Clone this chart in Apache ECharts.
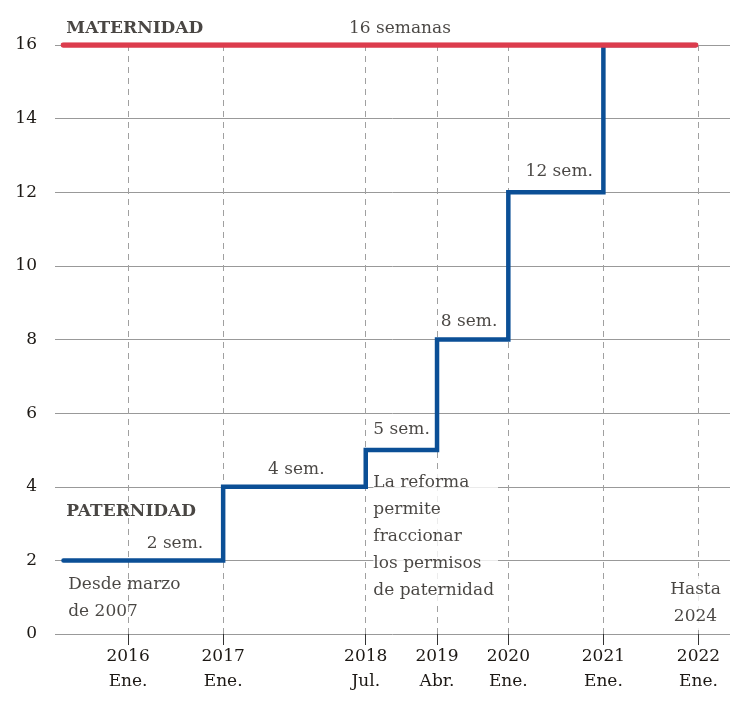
<!DOCTYPE html>
<html>
<head>
<meta charset="utf-8">
<style>
  html, body { margin: 0; padding: 0; background: #fff; }
  #chart { width: 730px; height: 701px; }
</style>
<script src="https://cdn.jsdelivr.net/npm/echarts@6/dist/echarts.min.js"></script>
</head>
<body>
<div id="chart"></div>
<script>
// fechas como año decimal (Ene. = .0, Abr. = .25, Jul. = .5)
const stepYears = [2015.32, 2017, 2018.5, 2019.25, 2020, 2021, 2021.97]
const paternityWeeks = [2, 4, 5, 8, 12, 16, 16]
const maternityYears = [2015.32, 2021.97]
const maternityWeeks = [16, 16]
const tickYears = [2016, 2017, 2018.5, 2019.25, 2020, 2021, 2022]
const tickYearLabels = ['2016', '2017', '2018', '2019', '2020', '2021', '2022']
const tickMonthLabels = ['Ene.', 'Ene.', 'Jul.', 'Abr.', 'Ene.', 'Ene.', 'Ene.']

const textColor = '#1c1814'
const font = 'DejaVu Serif'

// anotaciones: texto + punto de anclaje en coordenadas del gráfico
const notes = [
  { text: 'MATERNIDAD', at: [2015.35, 16.45], align: 'left', bold: true },
  { text: '16 semanas', at: [2018.86, 16.45], align: 'center' },
  { text: 'PATERNIDAD', at: [2015.35, 3.32], align: 'left', bold: true },
  { text: '2 sem.', at: [2016.79, 2.45], align: 'right' },
  { text: 'Desde marzo\nde 2007', at: [2015.37, 0.98], align: 'left' },
  { text: '4 sem.', at: [2017.77, 4.46], align: 'center' },
  { text: '5 sem.', at: [2018.58, 5.54], align: 'left' },
  { text: 'La reforma\npermite\nfraccionar\nlos permisos\nde paternidad', at: [2018.58, 2.64], align: 'left', bg: true },
  { text: '8 sem.', at: [2019.29, 8.5], align: 'left' },
  { text: '12 sem.', at: [2020.89, 12.55], align: 'right' },
  { text: 'Hasta\n2024', at: [2021.99, 0.84], align: 'center', bg: true }
]

const chart = echarts.init(document.getElementById('chart'))

const option = {
  backgroundColor: '#fff',
  animation: false,
  grid: { left: 55, right: 0, top: 45, bottom: 67 },
  xAxis: {
    type: 'value',
    min: 2015.231,
    max: 2022.332,
    splitLine: { show: false },
    axisLine: { show: false },
    axisTick: {
      show: true,
      customValues: tickYears,
      length: 11,
      lineStyle: { color: '#333', width: 1 }
    },
    axisLabel: {
      customValues: tickYears,
      margin: 10,
      fontFamily: font,
      fontSize: 17,
      lineHeight: 25,
      color: textColor,
      formatter: v => {
        const i = tickYears.findIndex(t => Math.abs(t - v) < 0.01)
        return i < 0 ? '' : tickYearLabels[i] + '\n' + tickMonthLabels[i]
      }
    }
  },
  yAxis: {
    type: 'value',
    min: 0,
    max: 16,
    interval: 2,
    axisLine: { show: false },
    axisTick: { show: false },
    splitLine: { lineStyle: { color: '#999', width: 1 } },
    axisLabel: { margin: 18, fontFamily: font, fontSize: 17, color: textColor }
  },
  series: [
    {
      name: 'guias',
      type: 'line',
      data: [],
      silent: true,
      z: 1,
      markLine: {
        silent: true,
        z: 1,
        symbol: 'none',
        label: { show: false },
        lineStyle: { color: '#a0a0a0', type: [6, 5], width: 1 },
        data: tickYears.map(y => ({ xAxis: y }))
      }
    },
    {
      name: 'Paternidad',
      type: 'line',
      step: 'end',
      data: stepYears.map((y, i) => [y, paternityWeeks[i]]),
      symbol: 'none',
      lineStyle: { color: '#0b4f96', width: 4.5, cap: 'round', join: 'miter' },
      z: 3
    },
    {
      name: 'Maternidad',
      type: 'line',
      data: maternityYears.map((y, i) => [y, maternityWeeks[i]]),
      symbol: 'none',
      lineStyle: { color: '#dc3c4d', width: 5.5, cap: 'round' },
      z: 4
    },
    {
      name: 'notas',
      type: 'scatter',
      symbolSize: 0,
      silent: true,
      clip: false,
      z: 2,
      data: notes.map(n => ({
        value: n.at,
        label: {
          show: true,
          position: [0, 0],
          formatter: n.text,
          align: n.align,
          verticalAlign: 'middle',
          fontFamily: font,
          fontSize: 17,
          fontWeight: n.bold ? 'bold' : 'normal',
          lineHeight: 27,
          color: textColor,
          backgroundColor: n.bg ? '#fff' : 'transparent',
          padding: n.bg ? [0, 4, 0, 0] : 0
        }
      }))
    }
  ]
}

chart.setOption(option)
</script>
</body>
</html>
